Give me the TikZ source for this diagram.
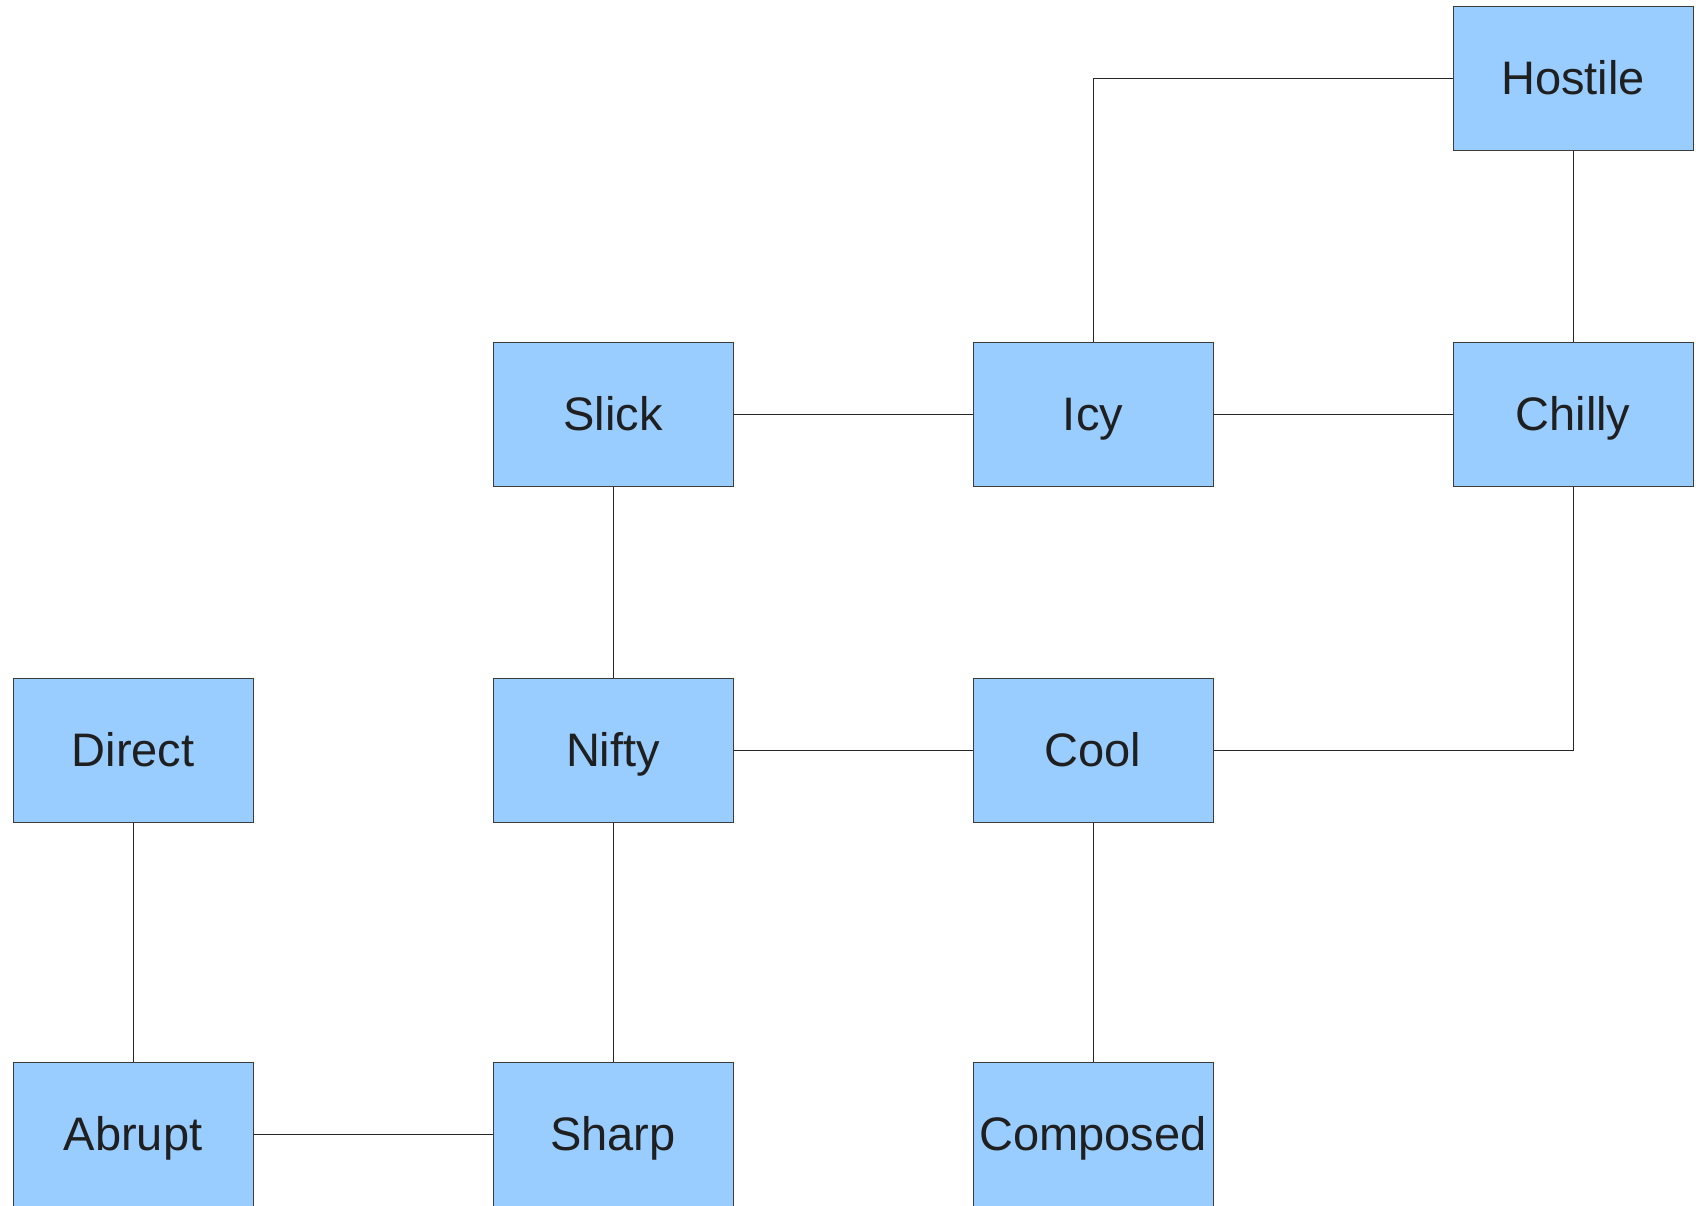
\documentclass[tikz,border=0pt]{standalone}
\usepackage{fontspec}
\setmainfont{Liberation Sans}
\usepackage{xcolor}
\definecolor{boxblue}{HTML}{99CCFF}
\definecolor{boxedge}{HTML}{3C3C3C}
\usepackage{tikz}
\usetikzlibrary{calc}

\begin{document}
\begin{tikzpicture}[x=0.5pt, y=-0.5pt,
    wordbox/.style={draw=boxedge, fill=boxblue, line width=0.5pt, minimum width=120pt, minimum height=72pt, inner sep=0pt, text height=16.8pt, text depth=0pt, font=\fontsize{23.5pt}{28pt}\selectfont, text=black!88},
    link/.style={draw=black!85, line width=0.5pt}]
  \useasboundingbox (0,0) rectangle (1696,1205);

  % boxes
  \node [wordbox] (hostile) at (1573,78) {Hostile};
  \node [wordbox] (slick) at (613,414) {Slick};
  \node [wordbox] (icy) at (1093,414) {Icy};
  \node [wordbox] (chilly) at (1573,414) {Chilly};
  \node [wordbox] (direct) at (133,750) {Direct};
  \node [wordbox] (nifty) at (613,750) {Nifty};
  \node [wordbox] (cool) at (1093,750) {Cool};
  \node [wordbox] (abrupt) at (133,1134) {Abrupt};
  \node [wordbox] (sharp) at (613,1134) {Sharp};
  \node [wordbox] (composed) at (1093,1134) {Composed};

  % straight links
  \draw [link] (hostile) -- (chilly);
  \draw [link] (slick) -- (icy);
  \draw [link] (icy) -- (chilly);
  \draw [link] (slick) -- (nifty);
  \draw [link] (nifty) -- (cool);
  \draw [link] (direct) -- (abrupt);
  \draw [link] (nifty) -- (sharp);
  \draw [link] (cool) -- (composed);
  \draw [link] (abrupt) -- (sharp);

  % elbow links
  \draw [link] (hostile.west) -| (icy.north);
  \draw [link] (chilly.south) |- (cool.east);

\end{tikzpicture}
\end{document}
